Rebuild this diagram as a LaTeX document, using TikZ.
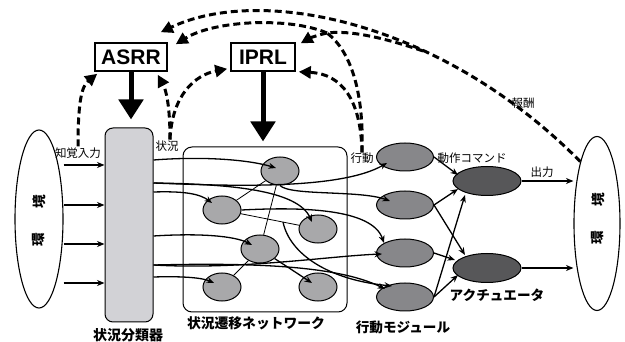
\documentclass[tikz,border=0pt]{standalone}
\usepackage{fontspec}
\newfontfamily\jp{Noto Sans CJK JP}
\newfontfamily\lat{Liberation Sans}
\usetikzlibrary{arrows.meta,shapes.geometric}
\definecolor{clsgray}{HTML}{D2D2D6}
\definecolor{ngray}{HTML}{A8A8AA}
\definecolor{agray}{HTML}{87878A}
\definecolor{cgray}{HTML}{575759}
\begin{document}
\begin{tikzpicture}[x=1pt,y=-1pt,
  arr/.style={line width=1.3pt,-{Stealth[length=7.5pt,width=6pt]}},
  thinedge/.style={line width=0.8pt},
  dsh/.style={line width=3pt,dash pattern=on 7pt off 4pt},
  dsha/.style={dsh,-{Triangle[length=12pt,width=12pt]}},
  bigarr/.style={line width=5pt,-{Triangle[length=20pt,width=24pt]}},
  envs/.style={ellipse,draw,line width=1.1pt,inner sep=0pt},
  nnode/.style={ellipse,draw,line width=1pt,fill=ngray,minimum width=38pt,minimum height=28pt,inner sep=0pt},
  anode/.style={nnode,fill=agray,minimum width=57pt},
  cnode/.style={nnode,fill=cgray,minimum width=68pt,minimum height=29pt},
  lbl/.style={font=\jp\fontsize{11.5}{12}\selectfont,inner sep=0pt},
  blbl/.style={font=\jp\bfseries\fontsize{13.6}{14}\selectfont,inner sep=0pt},
  boxn/.style={draw,line width=1.6pt,inner sep=0pt,font=\lat\bfseries\fontsize{21}{21}\selectfont,minimum height=28pt}
]
\useasboundingbox (0,0) rectangle (625,342);
% environment ellipses
\node[envs,minimum width=48pt,minimum height=178pt] (env1) at (39,219) {};
\node[envs,minimum width=46pt,minimum height=174pt] (env2) at (597,223.5) {};
\node[blbl,rotate=90] (e1a) at (39,202) {境};
\node[blbl,rotate=90] (e1b) at (39,240) {環};
\node[blbl,rotate=90] (e2a) at (598,200) {境};
\node[blbl,rotate=90] (e2b) at (598,238) {環};
% classifier and network
\node[draw,line width=1pt,fill=clsgray,rounded corners=8pt,minimum width=48pt,minimum height=194pt] (cls) at (129,225) {};
\node[blbl,font=\jp\bfseries\fontsize{14}{14}\selectfont] (clsl) at (128,335) {状況分類器};
\node[draw,line width=1pt,rounded corners=9pt,minimum width=164pt,minimum height=165pt] (net) at (265,229.5) {};
\node[blbl,font=\jp\bfseries\fontsize{13.8}{14}\selectfont] (netl) at (256,323) {状況遷移ネットワーク};
% boxes
\node[boxn,minimum width=72pt] (asrr) at (131,57) {ASRR};
\node[boxn,minimum width=64pt] (iprl) at (263,57) {IPRL};
% network nodes
\node[nnode] (n1) at (280,171) {};
\node[nnode] (n2) at (222,210) {};
\node[nnode] (n3) at (318,229) {};
\node[nnode] (n4) at (260,249) {};
\node[nnode] (n5) at (222,287) {};
\node[nnode] (n6) at (318,287) {};
% action modules
\node[anode] (a1) at (405,157) {};
\node[anode] (a2) at (405,205) {};
\node[anode] (a3) at (405,253) {};
\node[anode] (a4) at (405,297) {};
\node[blbl] (al) at (403,327) {行動モジュール};
% actuators
\node[cnode] (c1) at (487,181) {};
\node[cnode] (c2) at (487,268) {};
\node[blbl] (cl) at (497,295) {アクチュエータ};
% small labels
\node[lbl] (per) at (78,153) {知覚入力};
\node[lbl] (sit) at (167,146) {状況};
\node[lbl] (act) at (362,158) {行動};
\node[lbl] (cmd) at (472,158) {動作コマンド};
\node[lbl] (outl) at (542,172) {出力};
\node[lbl] (rew) at (523,103) {報酬};
% inputs
\foreach \yy in {165,205,244,283}
  \draw[arr] (env1.east |- 0,\yy) -- (cls.west |- 0,\yy);
% outputs
\draw[arr] (c1.east) -- (env2.west |- c1.east);
\draw[arr] (c2.east) -- (env2.west |- c2.east);
% thick arrows
\draw[bigarr,shorten >=8pt] (asrr.south) -- (asrr.south |- cls.north);
\draw[bigarr,shorten >=5pt] (iprl.south) -- (iprl.south |- net.north);
% network edges
\draw[thinedge] (n1) -- (n2);
\draw[thinedge] (n1) -- (n4);
\draw[thinedge] (n2) -- (n3);
\draw[thinedge] (n4) -- (n5);
\coordinate (j23) at (283,222);
% classifier to network / modules
\draw[arr] (cls.east |- 0,160) .. controls (205,156) and (250,160) .. ([shift={(-4pt,3pt)}]n1.center);
\draw[arr] (cls.east |- 0,183) .. controls (230,184) and (298,190) .. ([shift={(-6pt,7pt)}]n3.center);
\draw[arr] (cls.east |- 0,183) .. controls (230,186) and (340,190) .. ([shift={(-18pt,-6pt)}]a1.center);
\draw[arr] (cls.east |- 0,192) .. controls (185,191) and (200,194) .. ([shift={(-10pt,7pt)}]n2.center);
\draw[arr] (cls.east |- 0,236) .. controls (200,233) and (235,236) .. ([shift={(-8pt,4pt)}]n4.center);
\draw[arr] (cls.east |- 0,265) .. controls (240,270) and (330,256) .. ([shift={(-23pt,-1pt)}]a3.center);
\draw[arr] (cls.east |- 0,265) .. controls (240,263) and (335,264) .. ([shift={(-20pt,8pt)}]a4.center);
\draw[arr] (cls.east |- 0,277) .. controls (185,276) and (203,278) .. ([shift={(-8pt,4pt)}]n5.center);
% network to modules
\draw[arr] (n1.south) .. controls (290,196) and (360,190) .. ([shift={(-15pt,4pt)}]a2.center);
\draw[arr] (n2.east) .. controls (300,207) and (372,208) .. ([shift={(-21pt,10pt)}]a3.center);
\draw[arr] (j23) .. controls (290,255) and (330,280) .. ([shift={(-13pt,11pt)}]a4.center);
\draw[arr] (n4) -- ([shift={(-6pt,4pt)}]n6.center);
% modules to actuators
\draw[arr] (a1.east) -- ([shift={(-29pt,6pt)}]c1.center);
\draw[arr] (a2.east) -- ([shift={(-29pt,-8pt)}]c1.center);
\draw[arr] (a2.east) -- ([shift={(-22pt,13pt)}]c2.center);
\draw[arr] (a3.east) -- ([shift={(-32pt,8pt)}]c2.center);
\draw[arr] (a4.east) -- ([shift={(-22pt,-14pt)}]c1.center);
\draw[arr] (a4.east) -- ([shift={(-29pt,-7pt)}]c2.center);
% dashed feedback
\coordinate (J) at (327,33);
\coordinate (rb) at (423,51);
\draw[dsha] ([yshift=1pt]per.north) .. controls (78,100) and (82,86) .. ([shift={(3pt,-2pt)}]asrr.south west);
\draw[dsha] ([shift={(3pt,1pt)}]sit.north) .. controls (170,105) and (166,90) .. ([shift={(-10pt,-3pt)}]asrr.south east);
\draw[dsha] ([shift={(3pt,1pt)}]sit.north) .. controls (172,95) and (195,75) .. ([shift={(-3pt,3pt)}]iprl.south west);
\draw[dsha] (act.north) .. controls (361,100) and (342,74) .. ([shift={(3pt,0pt)}]iprl.south east);
\draw[dsh] (act.north) .. controls (364,95) and (352,52) .. (J);
\draw[dsha] (J) .. controls (290,17) and (215,20) .. ([shift={(8pt,-2pt)}]asrr.north east);
\draw[dsha] (J) .. controls (318,35) and (310,38) .. ([shift={(5pt,-1pt)}]iprl.north east);
\draw[dsh] (rb) .. controls (385,38) and (350,30) .. (J);
\draw[dsha] (env2.north west) .. controls (440,20) and (260,-15) .. ([shift={(-7pt,10pt)}]asrr.north east);
\end{tikzpicture}
\end{document}
